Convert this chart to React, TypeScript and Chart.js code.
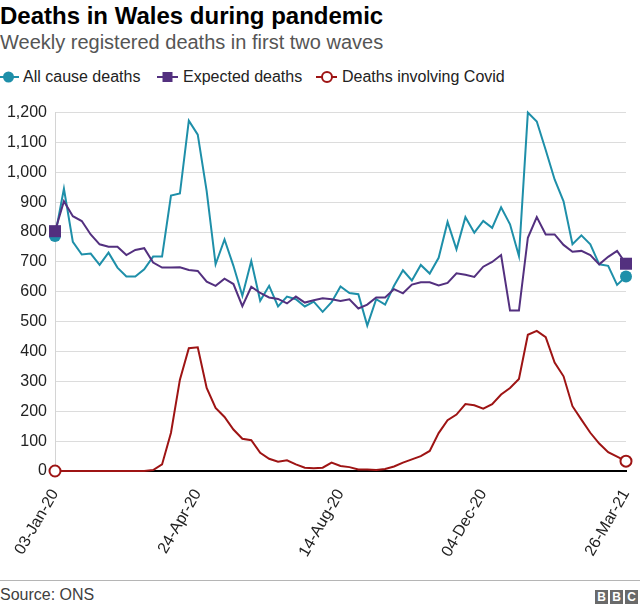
import React, { useEffect, useRef } from 'react';
import { Chart, registerables } from 'chart.js';

Chart.register(...registerables);

const weeks = [
  '03-Jan-20', '10-Jan-20', '17-Jan-20', '24-Jan-20', '31-Jan-20',
  '07-Feb-20', '14-Feb-20', '21-Feb-20', '28-Feb-20',
  '06-Mar-20', '13-Mar-20', '20-Mar-20', '27-Mar-20',
  '03-Apr-20', '10-Apr-20', '17-Apr-20', '24-Apr-20',
  '01-May-20', '08-May-20', '15-May-20', '22-May-20', '29-May-20',
  '05-Jun-20', '12-Jun-20', '19-Jun-20', '26-Jun-20',
  '03-Jul-20', '10-Jul-20', '17-Jul-20', '24-Jul-20', '31-Jul-20',
  '07-Aug-20', '14-Aug-20', '21-Aug-20', '28-Aug-20',
  '04-Sep-20', '11-Sep-20', '18-Sep-20', '25-Sep-20',
  '02-Oct-20', '09-Oct-20', '16-Oct-20', '23-Oct-20', '30-Oct-20',
  '06-Nov-20', '13-Nov-20', '20-Nov-20', '27-Nov-20',
  '04-Dec-20', '11-Dec-20', '18-Dec-20', '25-Dec-20',
  '01-Jan-21', '08-Jan-21', '15-Jan-21', '22-Jan-21', '29-Jan-21',
  '05-Feb-21', '12-Feb-21', '19-Feb-21', '26-Feb-21',
  '05-Mar-21', '12-Mar-21', '19-Mar-21', '26-Mar-21',
];

const tickDates = ['03-Jan-20', '24-Apr-20', '14-Aug-20', '04-Dec-20', '26-Mar-21'];

const allCauseDeaths = [
  787, 945, 767, 725, 728, 690, 731, 681, 651, 651,
  675, 718, 718, 922, 929, 1173, 1126, 937, 692, 775,
  687, 587, 703, 570, 620, 551, 584, 575, 551, 567,
  533, 565, 618, 596, 592, 487, 575, 557, 620, 672,
  638, 690, 661, 714, 834, 742, 850, 798, 837, 814,
  883, 826, 720, 1200, 1170, 1075, 976, 903, 759, 789,
  759, 692, 687, 623, 651,
];

const expectedDeaths = [
  803, 903, 853, 837, 792, 759, 751, 751, 723, 740,
  746, 698, 681, 681, 682, 673, 670, 634, 620, 644,
  626, 552, 617, 596, 581, 576, 561, 584, 564, 572,
  578, 575, 569, 575, 544, 557, 581, 581, 609, 595,
  624, 632, 632, 621, 630, 662, 657, 650, 684, 700,
  723, 537, 537, 781, 850, 792, 792, 757, 734, 737,
  723, 692, 717, 737, 694,
];

const covidDeaths = [
  0, 0, 0, 0, 0, 0, 0, 0, 0, 0,
  0, 3, 22, 128, 306, 411, 414, 278, 211, 181,
  139, 108, 103, 61, 41, 31, 36, 22, 11, 9,
  11, 28, 17, 13, 5, 5, 3, 7, 15, 28,
  39, 50, 67, 127, 170, 189, 224, 220, 209, 224,
  256, 278, 308, 456, 469, 448, 363, 317, 217, 172,
  128, 92, 63, 48, 33,
];

const TEAL = '#1e8fa9';
const PURPLE = '#53307f';
const RED = '#9e1414';
const FONT = '"Liberation Sans", Arial, Helvetica, sans-serif';

const endsOnly = (r: number) => (c: any) =>
  c.dataIndex === 0 || c.dataIndex === weeks.length - 1 ? r : 0;

export default function App() {
  const canvasRef = useRef<HTMLCanvasElement | null>(null);

  useEffect(() => {
    document.body.style.margin = '0';
    const canvas = canvasRef.current;
    if (!canvas) return;
    Chart.defaults.font.family = FONT;
    const chart = new Chart(canvas, {
      type: 'line',
      data: {
        labels: weeks,
        datasets: [
          {
            label: 'Expected deaths',
            data: expectedDeaths,
            borderColor: PURPLE,
            backgroundColor: PURPLE,
            borderWidth: 2,
            pointStyle: 'rect',
            pointRadius: endsOnly(8.5),
            pointHoverRadius: 0,
            pointBorderWidth: 0,
            pointBackgroundColor: PURPLE,
            tension: 0,
            clip: false,
          },
          {
            label: 'All cause deaths',
            data: allCauseDeaths,
            borderColor: TEAL,
            backgroundColor: TEAL,
            borderWidth: 2,
            pointStyle: 'circle',
            pointRadius: endsOnly(6),
            pointHoverRadius: 0,
            pointBorderWidth: 0,
            pointBackgroundColor: TEAL,
            tension: 0,
            clip: false,
          },
          {
            label: 'Deaths involving Covid',
            data: covidDeaths,
            borderColor: RED,
            backgroundColor: '#ffffff',
            borderWidth: 2,
            pointStyle: 'circle',
            pointRadius: endsOnly(5.5),
            pointHoverRadius: 0,
            pointBorderWidth: 2,
            pointBorderColor: RED,
            pointBackgroundColor: '#ffffff',
            tension: 0,
            clip: false,
          },
        ],
      },
      options: {
        animation: false,
        responsive: false,
        maintainAspectRatio: false,
        devicePixelRatio: 1,
        layout: { padding: { top: 16, right: 14, left: 0, bottom: 0 } },
        plugins: {
          legend: { display: false },
          tooltip: { enabled: false },
          title: { display: false },
        },
        scales: {
          x: {
            type: 'category',
            offset: false,
            grid: { display: false, drawTicks: false },
            border: { display: true, color: '#000000', width: 2 },
            ticks: {
              autoSkip: false,
              maxRotation: 60,
              minRotation: 60,
              padding: 15,
              color: '#222222',
              font: { size: 16, family: FONT },
              callback: (_v: any, i: number) =>
                tickDates.includes(weeks[i]) ? weeks[i] : null,
            },
            afterFit: (s: any) => {
              s.height = 104;
              s.paddingLeft = 0;
              s.paddingRight = 0;
            },
          },
          y: {
            min: 0,
            max: 1200,
            ticks: {
              stepSize: 100,
              padding: 8,
              color: '#222222',
              font: { size: 16, family: FONT },
              callback: (v: any) => Number(v).toLocaleString('en-US'),
            },
            grid: { color: '#dcdcdc', lineWidth: 1, drawTicks: false },
            border: { display: true, color: '#d4d4d4', width: 1 },
            afterFit: (s: any) => {
              s.width = 55;
            },
          },
        },
      },
    } as any);
    return () => chart.destroy();
  }, []);

  const text: React.CSSProperties = { position: 'absolute', fontFamily: FONT, whiteSpace: 'nowrap' };
  const legendText: React.CSSProperties = { ...text, top: 68, fontSize: 16, lineHeight: '18px', color: '#222' };

  return (
    <div style={{ position: 'relative', width: 640, height: 609, background: '#fff', overflow: 'hidden' }}>
      <div style={{ ...text, left: 0, top: 2, fontSize: 24, lineHeight: '28px', fontWeight: 700, color: '#000' }}>
        Deaths in Wales during pandemic
      </div>
      <div style={{ ...text, left: 0, top: 30, fontSize: 20, lineHeight: '24px', color: '#555' }}>
        Weekly registered deaths in first two waves
      </div>

      <svg style={{ position: 'absolute', left: 0, top: 68 }} width={20} height={18}>
        <line x1={0} y1={9} x2={19} y2={9} stroke={TEAL} strokeWidth={2} />
        <circle cx={8.5} cy={9} r={5.5} fill={TEAL} />
      </svg>
      <div style={{ ...legendText, left: 23 }}>All cause deaths</div>

      <svg style={{ position: 'absolute', left: 157, top: 68 }} width={22} height={18}>
        <line x1={0} y1={9} x2={21} y2={9} stroke={PURPLE} strokeWidth={2} />
        <rect x={5.5} y={4} width={10} height={10} fill={PURPLE} />
      </svg>
      <div style={{ ...legendText, left: 183 }}>Expected deaths</div>

      <svg style={{ position: 'absolute', left: 316, top: 68 }} width={22} height={18}>
        <line x1={0} y1={9} x2={21} y2={9} stroke={RED} strokeWidth={2} />
        <circle cx={11} cy={9} r={5} fill="#fff" stroke={RED} strokeWidth={2} />
      </svg>
      <div style={{ ...legendText, left: 342 }}>Deaths involving Covid</div>

      <canvas
        ref={canvasRef}
        width={640}
        height={480}
        style={{ position: 'absolute', left: 0, top: 95, width: 640, height: 480, display: 'block' }}
      />

      <div style={{ position: 'absolute', left: 0, top: 580, width: 640, height: 1, background: '#b5b5b5' }} />
      <div style={{ ...text, left: 0, top: 586, fontSize: 16, lineHeight: '18px', color: '#404040' }}>
        Source: ONS
      </div>
      <div style={{ position: 'absolute', left: 595, top: 590, display: 'flex', gap: 2 }}>
        {['B', 'B', 'C'].map((l, i) => (
          <div
            key={i}
            style={{
              width: 13,
              height: 14,
              background: '#6a6a6a',
              color: '#fff',
              fontFamily: FONT,
              fontWeight: 700,
              fontSize: 12,
              lineHeight: '14px',
              textAlign: 'center',
            }}
          >
            {l}
          </div>
        ))}
      </div>
    </div>
  );
}
